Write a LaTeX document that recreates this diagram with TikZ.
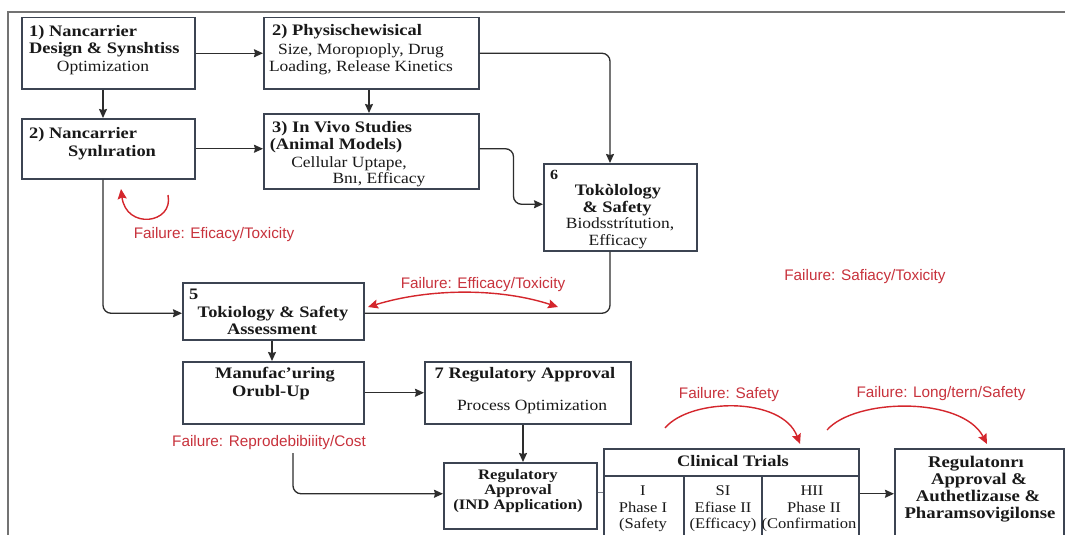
\documentclass[tikz,border=0pt]{standalone}
\usepackage{fontspec}
\setmainfont{Liberation Serif}
\newfontfamily\wserif[FakeStretch=1.15]{Liberation Serif}
\newfontfamily\rserif[FakeStretch=1.12]{Liberation Serif}
\newfontfamily\rsans{Liberation Sans}
\usetikzlibrary{arrows.meta,calc}
\definecolor{boxc}{RGB}{60,68,82}
\definecolor{connc}{RGB}{45,45,45}
\definecolor{redc}{RGB}{212,38,44}
\definecolor{redt}{RGB}{200,50,60}
\definecolor{txt}{RGB}{25,25,25}
\definecolor{framec}{RGB}{115,115,115}
\tikzset{
  box/.style={draw=boxc, line width=1.5pt, fill=white, inner sep=0pt, anchor=north west},
  conn/.style={draw=connc, line width=1.3pt, -{Stealth[length=9pt,width=8pt,inset=1pt]}},
  plain/.style={draw=connc, line width=1.3pt},
  rarc/.style={draw=redc, line width=1.4pt, -{Stealth[length=10pt,width=9pt,inset=1.5pt]}},
  rarcb/.style={draw=redc, line width=1.4pt, {Stealth[length=10pt,width=9pt,inset=1.5pt]}-{Stealth[length=10pt,width=9pt,inset=1.5pt]}},
  bt/.style={font=\wserif\fontsize{16}{16}\selectfont\bfseries, text=txt, inner sep=0pt},
  rt/.style={font=\rserif\fontsize{15.6}{16}\selectfont, text=txt, inner sep=0pt},
  it/.style={font=\wserif\fontsize{14.5}{15}\selectfont\bfseries, text=txt, inner sep=0pt},
  ct/.style={font=\rserif\fontsize{14.8}{15}\selectfont, text=txt, inner sep=0pt},
  ft/.style={font=\wserif\fontsize{16.3}{16}\selectfont\bfseries, text=txt, inner sep=0pt},
  fl/.style={font=\rsans\fontsize{15.3}{16}\selectfont, text=redt, inner sep=0pt},
}
\begin{document}
\begin{tikzpicture}[x=1pt,y=-1pt]
\useasboundingbox (0,0) rectangle (1065,535);
\clip (0,0) rectangle (1065,535);
\fill[white] (0,0) rectangle (1065,535);
\draw[framec, line width=1.5pt] (8,540) -- (8,12) -- (1070,12);

% boxes
\node[box, minimum width=173pt, minimum height=71pt] (b1) at (21,17) {};
\node[box, minimum width=215pt, minimum height=71pt] (p2) at (263,17) {};
\node[box, minimum width=173pt, minimum height=60pt] (n2) at (21,118) {};
\node[box, minimum width=215pt, minimum height=75pt] (b3) at (263,113) {};
\node[box, minimum width=153pt, minimum height=87pt] (b6) at (543,163) {};
\node[box, minimum width=181pt, minimum height=57pt] (b5) at (182,282) {};
\node[box, minimum width=181pt, minimum height=62pt] (mf) at (182,361) {};
\node[box, minimum width=206pt, minimum height=62pt] (b7) at (424,361) {};
\node[box, minimum width=153pt, minimum height=66pt] (ind) at (443,462) {};
\node[box, minimum width=255pt, minimum height=100pt] (ct) at (603,448) {};
\node[box, minimum width=169pt, minimum height=100pt] (fin) at (894,448) {};
% clinical trials internal lines
\draw[boxc, line width=1.2pt] (ct.west |- 0,476) -- (ct.east |- 0,476);
\draw[boxc, line width=1.2pt] (684,476) -- (684,548);
\draw[boxc, line width=1.2pt] (762,476) -- (762,548);

% connectors
\draw[conn] (b1.east) -- (p2.west);
\draw[conn] ([xshift=82pt]b1.south west) -- ([xshift=82pt]n2.north west);
\draw[conn] ([xshift=106pt]p2.south west) -- ([xshift=106pt]b3.north west);
\draw[conn, rounded corners=8pt] (p2.east) -| ([xshift=67pt]b6.north west);
\draw[conn] (n2.east) -- (n2.east -| b3.west);
\draw[conn, rounded corners=8pt] (b3.east |- n2.east) -- ++(34,0) |- ([yshift=3pt]b6.west);
\draw[conn, rounded corners=8pt] ([xshift=82pt]n2.south west) |- ([yshift=-2pt]b5.west);
\draw[plain, rounded corners=8pt] ([xshift=67pt]b6.south west) |- ([yshift=-2pt]b5.east);
\draw[conn] ([xshift=90pt]b5.south west) -- ([xshift=90pt]mf.north west);
\draw[conn] (mf.east) -- (b7.west);
\draw[conn] ([xshift=99pt]b7.south west) -- ([xshift=80pt]ind.north west);
\coordinate (rc) at (293,453);
\draw[conn, rounded corners=8pt] (rc) |- ([yshift=2pt]ind.west);
\draw[boxc!70, line width=1pt] ([yshift=3pt]ind.east) -- ([yshift=3pt]ind.east -| ct.west);
\draw[conn] ([yshift=5pt]ct.east) -- ([yshift=5pt]fin.west);

% red arcs
\coordinate (ra1) at (168,195); \coordinate (ra2) at (121,189);
\draw[rarc] (ra1) .. controls (174,224) and (126,230) .. (ra2);
\coordinate (rb1) at (368,307); \coordinate (rb2) at (558,307);
\draw[rarcb] (rb1) .. controls (430,288) and (500,288) .. (rb2);
\coordinate (rs1) at (665,428); \coordinate (rs2) at (800,444);
\draw[rarc] (rs1) .. controls (690,398) and (782,396) .. (rs2);
\coordinate (rl1) at (827,430); \coordinate (rl2) at (987,444);
\draw[rarc] (rl1) .. controls (855,398) and (962,396) .. (rl2);

% texts box 1
\node[bt, anchor=base west] (t1a) at (29,37) {1) Nancarrier};
\node[bt, anchor=base west] (t1b) at (29,54) {Design \& Synshtiss};
\node[rt, anchor=base] (t1c) at (103,71) {Optimization};
% p2
\node[bt, anchor=base west] (t2a) at (272,36) {2) Physischewisical};
\node[rt, anchor=base] (t2b) at (361,55) {Size, Moropıoply, Drug};
\node[rt, anchor=base] (t2c) at (361,71) {Loading, Release Kinetics};
% n2
\node[bt, anchor=base west] (t3a) at (29,138) {2) Nancarrier};
\node[bt, anchor=base] (t3b) at (112,156) {Synlıration};
% b3
\node[bt, anchor=base west] (t4a) at (272,132) {3) In Vivo Studies};
\node[bt, anchor=base] (t4b) at (336,149) {(Animal Models)};
\node[rt, anchor=base] (t4c) at (349,167) {Cellular Uptape,};
\node[rt, anchor=base] (t4d) at (379,183) {Bnı, Efficacy};
% b6
\node[bt, anchor=base west, font=\wserif\fontsize{14}{14}\selectfont\bfseries] (t5a) at (550,179) {6};
\node[bt, anchor=base] (t5b) at (618,195) {Tokòlology};
\node[bt, anchor=base] (t5c) at (617,212) {\& Safety};
\node[rt, anchor=base] (t5d) at (620,228) {Biodsstrítution,};
\node[rt, anchor=base] (t5e) at (618,245) {Efficacy};
% b5
\node[bt, anchor=base west] (t6a) at (189,299) {5};
\node[bt, anchor=base] (t6b) at (273,317) {Tokiology \& Safety};
\node[bt, anchor=base] (t6c) at (272,334) {Assessment};
% mf
\node[bt, anchor=base] (t7a) at (275,378) {Manufac’uring};
\node[bt, anchor=base] (t7b) at (271,396) {Orubl-Up};
% b7
\node[bt, anchor=base] (t8a) at (525,378) {7 Regulatory Approval};
\node[rt, anchor=base] (t8b) at (532,410) {Process Optimization};
% ind
\node[it, anchor=base] (t9a) at (518,479) {Regulatory};
\node[it, anchor=base] (t9b) at (518,494) {Approval};
\node[it, anchor=base] (t9c) at (518,509) {(IND Application)};
% clinical trials
\node[bt, anchor=base] (tca) at (733,466) {Clinical Trials};
\node[ct, anchor=base] (tc1a) at (643,495) {I};
\node[ct, anchor=base] (tc1b) at (643,512) {Phase I};
\node[ct, anchor=base] (tc1c) at (643,528) {(Safety};
\node[ct, anchor=base] (tc2a) at (723,495) {SI};
\node[ct, anchor=base] (tc2b) at (723,512) {Efiase II};
\node[ct, anchor=base] (tc2c) at (723,528) {(Efficacy)};
\node[ct, anchor=base] (tc3a) at (812,495) {HII};
\node[ct, anchor=base] (tc3b) at (814,512) {Phase II};
\node[ct, anchor=base] (tc3c) at (809,528) {(Confirmation};
% final
\node[ft, anchor=base] (tfa) at (976,467) {Regulatonrı};
\node[ft, anchor=base] (tfb) at (979,484) {Approval \&};
\node[ft, anchor=base] (tfc) at (978,501) {Authetlizaıse \&};
\node[ft, anchor=base] (tfd) at (980,518) {Pharamsovigilonse};
% red labels
\node[fl, anchor=base] (f1) at (214,238) {Failure: Eficacy/Toxicity};
\node[fl, anchor=base] (f2) at (483,288) {Failure: Efficacy/Toxicity};
\node[fl, anchor=base] (f3) at (865,280) {Failure: Safiacy/Toxicity};
\node[fl, anchor=base] (f4) at (269,446) {Failure: Reprodebibiiity/Cost};
\node[fl, anchor=base] (f5) at (729,398) {Failure: Safety};
\node[fl, anchor=base] (f6) at (941,397) {Failure: Long/tern/Safety};
\end{tikzpicture}
\end{document}
